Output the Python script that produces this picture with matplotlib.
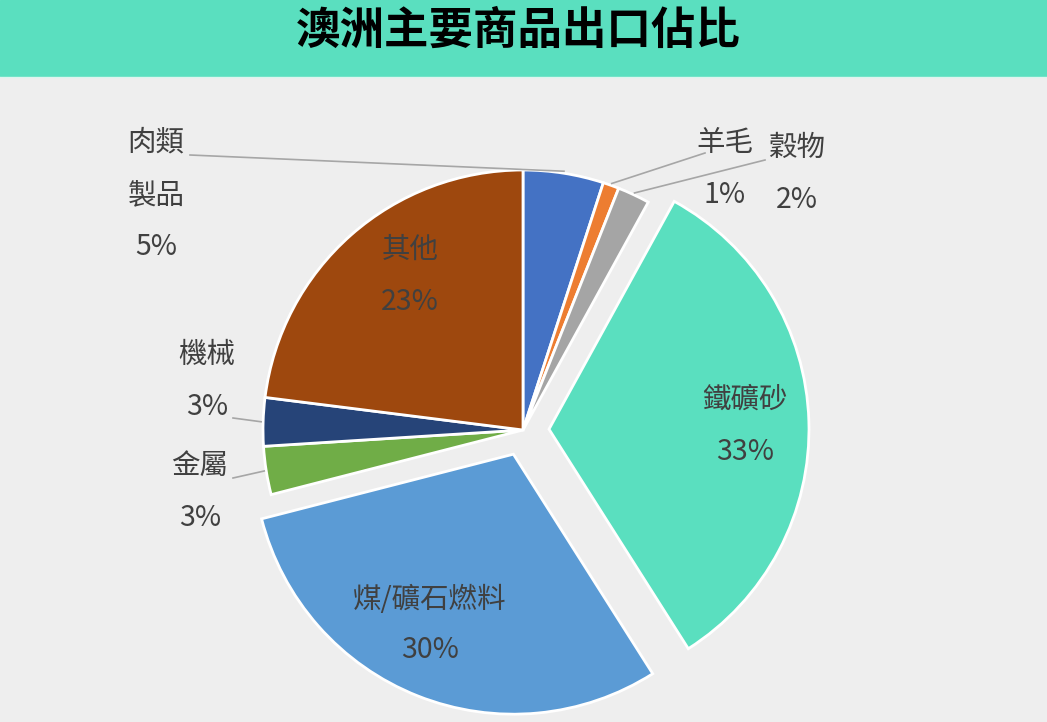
import numpy as np
import matplotlib
matplotlib.use("Agg")
import matplotlib.pyplot as plt
from matplotlib.patches import Rectangle

plt.rcParams["font.family"] = ["Noto Sans CJK TC", "DejaVu Sans"]

TITLE = "澳洲主要商品出口佔比"
categories = ["肉類製品", "羊毛", "穀物", "鐵礦砂", "煤/礦石燃料", "金屬", "機械", "其他"]
shares = [5, 1, 2, 33, 30, 3, 3, 23]
colors = ["#4472C4", "#ED7D31", "#A5A5A5", "#5ADFBF", "#5B9BD5", "#70AD47", "#264478", "#9E480E"]
explode_frac = [0, 0, 0, 0.1, 0.1, 0, 0, 0]

W, H = 1047, 722
CX, CY, R = 523, 430, 260
TEXT_COLOR = "#404040"
LINE_COLOR = "#A6A6A6"

# label layout: (lines, x, y of first line, line step) in pixel coords
label_layout = {
    "肉類製品": (["肉類", "製品"], 156, 143, 52),
    "羊毛": (["羊毛"], 725, 143, 52),
    "穀物": (["穀物"], 797, 148, 52),
    "鐵礦砂": (["鐵礦砂"], 745, 400, 52),
    "煤/礦石燃料": (["煤/礦石燃料"], 430, 600, 50),
    "金屬": (["金屬"], 200, 466, 52),
    "機械": (["機械"], 207, 355, 52),
    "其他": (["其他"], 410, 250, 52),
}
leader_start = {
    "肉類製品": (190, 155),
    "羊毛": (705, 153),
    "穀物": (765, 160),
    "金屬": (233, 478),
    "機械": (233, 418),
}


def py(y):
    return H - y


def edge_point(idx, r):
    cum = np.cumsum([0] + shares) / sum(shares)
    mid = (cum[idx] + cum[idx + 1]) / 2
    ang = np.deg2rad(mid * 360)
    return CX + r * np.sin(ang), CY - r * np.cos(ang)


fig = plt.figure(figsize=(W / 100, H / 100), dpi=100, facecolor="#EEEEEE")
ax = fig.add_axes([0, 0, 1, 1])
ax.set_facecolor("#EEEEEE")

ax.pie(
    shares,
    colors=colors,
    explode=[e * R for e in explode_frac],
    startangle=90,
    counterclock=False,
    center=(CX, py(CY)),
    radius=R,
    wedgeprops=dict(edgecolor="white", linewidth=2),
)
ax.set_xlim(0, W)
ax.set_ylim(0, H)
ax.set_aspect("equal")
ax.axis("off")

# title bar
ax.add_patch(Rectangle((0, py(76)), W, 76, color="#5ADFBF", zorder=5))
ax.plot([0, W], [py(77), py(77)], color="#DDF5EE", lw=1, zorder=5)
ax.text(518, py(31), TITLE, fontsize=32, fontweight="bold", color="black",
        ha="center", va="center", zorder=6)

for i, (name, value) in enumerate(zip(categories, shares)):
    lines, x, y, step = label_layout[name]
    for k, line in enumerate(lines + [f"{value}%"]):
        ax.text(x, py(y + k * step), line, fontsize=20.5, color=TEXT_COLOR,
                ha="center", va="center")
    if name in leader_start:
        sx, sy = leader_start[name]
        ex, ey = edge_point(i, R + 2)
        ax.plot([sx, ex], [py(sy), py(ey)], color=LINE_COLOR, lw=1.2)

fig.savefig("out.png", dpi=100, facecolor=fig.get_facecolor())
